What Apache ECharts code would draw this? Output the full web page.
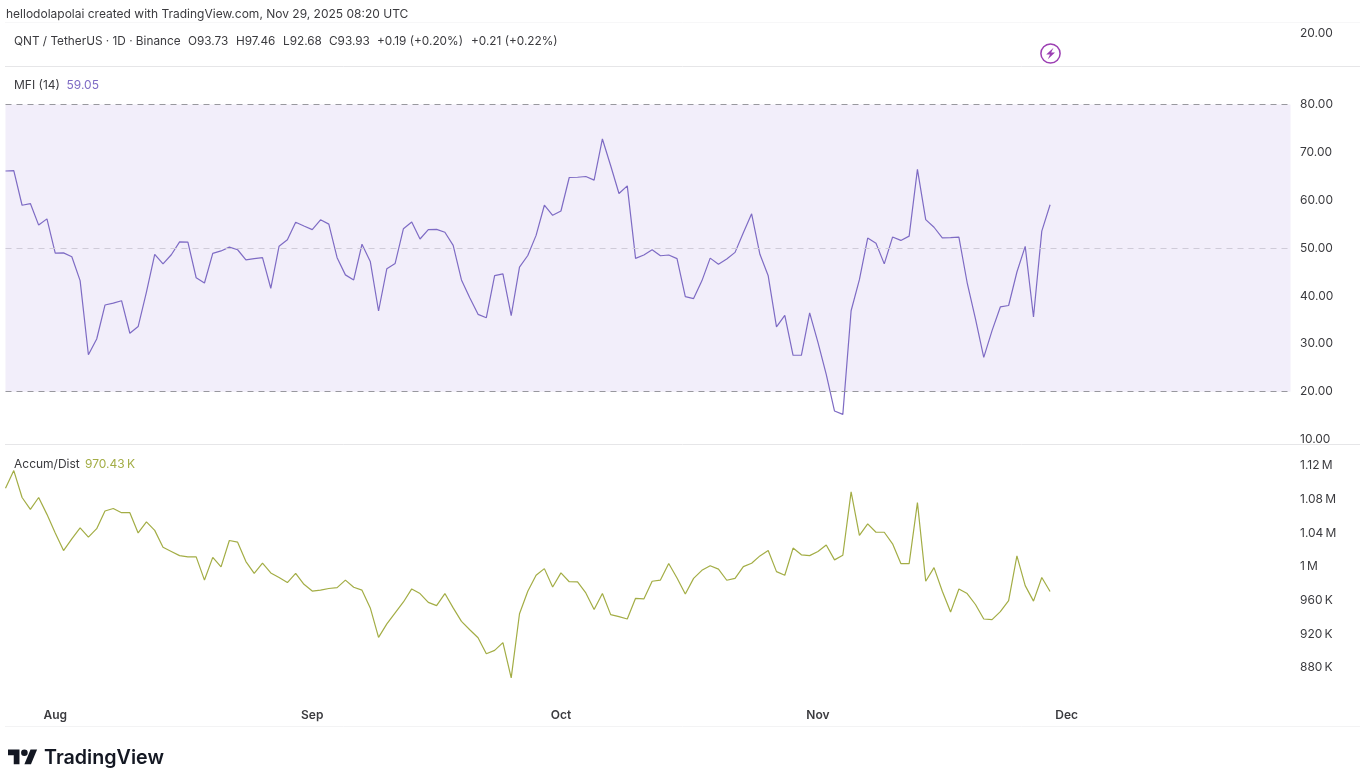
<!DOCTYPE html>
<html><head><meta charset="utf-8">
<style>html,body{margin:0;padding:0;background:#fff}#c{width:1366px;height:782px}</style>
<script src="https://cdn.jsdelivr.net/npm/echarts@6/dist/echarts.min.js"></script>
</head><body><div id="c"></div>
<script>
var startDate = '2025-07-26';
var dayCount = 156;
var mfi = [66.1,66.2,58.95,59.3,54.8,56.1,48.95,49.0,48.2,43.2,27.7,31.0,38.1,38.5,39.0,32.2,33.6,40.8,48.7,46.7,48.6,51.3,51.25,43.8,42.7,48.9,49.4,50.2,49.65,47.55,47.8,48.0,41.6,50.4,51.75,55.4,54.6,53.85,55.9,55.0,48.0,44.4,43.35,50.8,47.2,36.85,45.7,46.8,54.05,55.45,51.9,53.85,53.9,53.3,50.55,43.35,39.6,36.15,35.45,44.25,44.6,35.9,46.0,48.45,52.65,58.95,56.85,57.75,64.75,64.8,64.95,64.2,72.8,67.2,61.4,63.0,47.85,48.55,49.65,48.4,48.55,47.8,39.85,39.45,43.15,47.9,46.6,47.7,49.1,53.2,57.15,48.7,44.2,33.55,35.95,27.6,27.6,36.45,30.3,23.6,15.95,15.25,36.9,43.4,52.1,51.0,46.7,52.3,51.6,52.5,66.45,55.95,54.35,52.15,52.2,52.3,42.75,35.2,27.15,32.75,37.7,38.0,45.0,50.35,35.6,53.55,59.05];
var accDist = [1093,1114,1082,1068,1082,1062,1040,1019,1033,1046,1035,1045,1066,1069,1064,1064,1040,1053,1043,1023,1018,1013,1011.5,1011.5,984,1011,999.6,1031,1029,1006,992,1004,992.5,987,981,992,979,971,972,974,975,984,975.5,972,951,916,932,945,958,973.5,968,957.6,953.7,968,951,935,925,915.6,896.6,900.6,909.7,868,944,970.7,989.7,997.6,975.8,992.5,982,981.8,968.7,949,968,943,940.6,937.8,962.4,961.6,982.6,984,1003.6,986.5,967.5,986,995.6,1001,997,983.8,986,1000,1004,1012.7,1019,994,989.7,1022,1014,1013,1018,1025.7,1008,1013.5,1088.7,1037,1050.7,1040.8,1040.8,1027,1003.6,1003.6,1076,982.6,998.8,970.7,946,973.5,968,955,937.8,937,946.5,959.6,1012.7,977.4,959,987,970.43];
var mfiBand = [80, 20];
var mfiMiddle = 50;
var monthNames = ['Jan','Feb','Mar','Apr','May','Jun','Jul','Aug','Sep','Oct','Nov','Dec'];
var headerText = 'hellodolapolai created with TradingView.com, Nov 29, 2025 08:20 UTC';
var symbolText = 'QNT / TetherUS · 1D · Binance';
var ohlcText = ['O93.73','H97.46','L92.68','C93.93','+0.19 (+0.20%)','+0.21 (+0.22%)'];

var dates = [];
(function(){
  var t = Date.parse(startDate + 'T00:00:00Z');
  for (var i = 0; i < dayCount; i++) dates.push(new Date(t + i * 864e5).toISOString().slice(0,10));
})();

var FONT = 'Inter, "Liberation Sans", sans-serif';
var TXT = '#3b3b3f';
var PURPLE = '#7e6bc4';
var OLIVE = '#a3ad45';

function txt(x, y, s, opt) {
  opt = opt || {};
  return {type:'text', x:x, y:y, silent:true, style:{text:s, fill:opt.fill||TXT, font:(opt.weight||'400')+' '+(opt.size||12)+'px '+FONT, textVerticalAlign:'middle', textBaseline:'middle'}};
}
function rule(y, x1, x2, color) {
  return {type:'line', silent:true, shape:{x1:x1,y1:y,x2:x2,y2:y}, style:{stroke:color,lineWidth:1}};
}
function logoPoly(pts) {
  var s = 0.82, ox = 8, oy = 746.2;
  return {type:'polygon', silent:true, shape:{points:pts.map(function(p){return [ox+p[0]*s, oy+p[1]*s];})}, style:{fill:'#131722'}};
}

var chart = echarts.init(document.getElementById('c'), null, {renderer:'canvas', width:1366, height:782});

var gridL = 5.5, gridW = 1285;
var axisLabelStyle = {color:TXT, fontFamily:FONT, fontSize:12, margin:9.5, align:'left', padding:[2,0,0,0]};
function hiddenX(i){
  return {type:'category', gridIndex:i, data:dates, boundaryGap:false, show:false};
}

var ohlcX = [188, 236, 283, 329, 377, 471];
var graphics = [
  rule(22.5, 5, 1360, '#f7f7f8'),
  rule(66.5, 5, 1360, '#e6e6e8'),
  rule(444.5, 5, 1360, '#e6e6e8'),
  rule(726.5, 5, 1360, '#f3f3f4'),
  txt(6, 14, headerText, {size:12}),
  txt(14, 41, symbolText, {size:11.8}),
  txt(14, 85, 'MFI (14)', {size:12}),
  txt(66.5, 85, '59.05', {size:12, fill:PURPLE}),
  txt(14, 464, 'Accum/Dist', {size:12}),
  txt(85, 464, '970.43\u202fK', {size:12, fill:OLIVE}),
  {type:'circle', silent:true, shape:{cx:1050.5,cy:53.5,r:9.6}, style:{fill:'#fff',stroke:'#9c3fb3',lineWidth:1.5}},
  {type:'polygon', silent:true, shape:{points:[[1053.5,47.8],[1046.2,54.4],[1050,54.4],[1047.8,59.2],[1055,52.6],[1051.2,52.6]]}, style:{fill:'#9c3fb3'}},
  logoPoly([[14,22],[7,22],[7,11],[0,11],[0,4],[14,4]]),
  logoPoly([[28,22],[20,22],[27.5,4],[35.5,4]]),
  {type:'circle', silent:true, shape:{cx:24.4,cy:752.8,r:3.3}, style:{fill:'#131722'}},
  txt(44, 758, 'TradingView', {size:19.7, weight:'600', fill:'#131722'})
];
ohlcText.forEach(function(s,i){ graphics.push(txt(ohlcX[i], 41, s, {size:11.8})); });

chart.setOption({
  animation:false,
  backgroundColor:'#ffffff',
  grid:[
    {left:gridL, width:gridW, top:33, height:33},
    {left:gridL, width:gridW, top:104.5, height:335},
    {left:gridL, width:gridW, top:465.5, height:235.9}
  ],
  xAxis:[
    hiddenX(0),
    hiddenX(1),
    {type:'category', gridIndex:2, data:dates, boundaryGap:false,
     axisLine:{show:false}, axisTick:{show:false}, splitLine:{show:false},
     axisLabel:{color:TXT, fontFamily:FONT, fontSize:12, fontWeight:600, margin:8, hideOverlap:false,
       interval:function(i,v){return v.slice(8)==='01';},
       formatter:function(v){return monthNames[parseInt(v.slice(5,7),10)-1];}}}
  ],
  yAxis:[
    {type:'value', gridIndex:0, position:'right', min:0, max:20, interval:20, splitLine:{show:false}, axisLine:{show:false}, axisTick:{show:false},
     axisLabel:Object.assign({}, axisLabelStyle, {formatter:function(v){return v===20?'20.00':'';}})},
    {type:'value', gridIndex:1, position:'right', min:10, max:80, interval:10, splitLine:{show:false}, axisLine:{show:false}, axisTick:{show:false},
     axisLabel:Object.assign({}, axisLabelStyle, {formatter:function(v){return v.toFixed(2);}})},
    {type:'value', gridIndex:2, position:'right', min:840, max:1120, interval:40, splitLine:{show:false}, axisLine:{show:false}, axisTick:{show:false},
     axisLabel:Object.assign({}, axisLabelStyle, {formatter:function(v){
       if(v===840) return '';
       return v>=1000 ? (v/1000)+'\u202fM' : v+'\u202fK';}})}
  ],
  series:[
    {type:'line', name:'MFI (14)', xAxisIndex:1, yAxisIndex:1, data:mfi, showSymbol:false, symbol:'none', clip:false,
     lineStyle:{color:PURPLE,width:1.2}, itemStyle:{color:PURPLE},
     markArea:{silent:true, itemStyle:{color:'#f2eefa', opacity:1}, data:[[{yAxis:mfiBand[1]},{yAxis:mfiBand[0]}]]},
     markLine:{silent:true, symbol:'none', label:{show:false}, animation:false, data:[
       {yAxis:mfiBand[0], lineStyle:{color:'#98989e',type:[6,5],width:1}},
       {yAxis:mfiMiddle, lineStyle:{color:'#cfcbd8',type:[6,5],width:1}},
       {yAxis:mfiBand[1], lineStyle:{color:'#98989e',type:[6,5],width:1}}
     ]}},
    {type:'line', name:'Accum/Dist', xAxisIndex:2, yAxisIndex:2, data:accDist, showSymbol:false, symbol:'none', clip:false,
     lineStyle:{color:OLIVE,width:1.2}, itemStyle:{color:OLIVE}}
  ],
  graphic:{elements:graphics}
});
</script></body></html>
